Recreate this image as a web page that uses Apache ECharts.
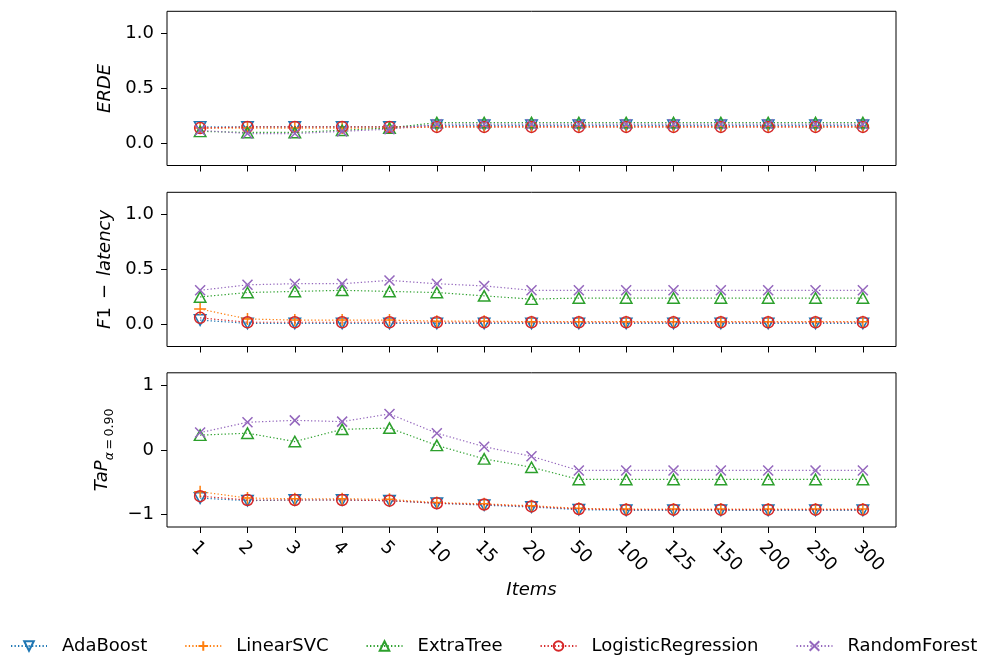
<!DOCTYPE html>
<html>
<head>
<meta charset="utf-8">
<script src="https://cdn.jsdelivr.net/npm/echarts@6/dist/echarts.min.js"></script>
<style>
  html, body { margin: 0; padding: 0; background: #fff; }
  #chart { width: 988px; height: 659px; }
</style>
</head>
<body>
<div id="chart"></div>
<script>
// Number of items seen before a decision
const items = ['1', '2', '3', '4', '5', '10', '15', '20', '50', '100', '125', '150', '200', '250', '300'];

const models = ['AdaBoost', 'LinearSVC', 'ExtraTree', 'LogisticRegression', 'RandomForest'];

// ERDE
const erdeAdaBoost = [0.15, 0.15, 0.15, 0.15, 0.15, 0.165, 0.165, 0.165, 0.165, 0.165, 0.165, 0.165, 0.165, 0.165, 0.165];
const erdeLinearSVC = [0.14, 0.14, 0.14, 0.14, 0.14, 0.15, 0.15, 0.15, 0.15, 0.15, 0.15, 0.15, 0.15, 0.15, 0.15];
const erdeExtraTree = [0.11, 0.10, 0.10, 0.12, 0.14, 0.19, 0.19, 0.19, 0.19, 0.19, 0.19, 0.19, 0.19, 0.19, 0.19];
const erdeLogReg = [0.14, 0.15, 0.15, 0.15, 0.15, 0.15, 0.15, 0.15, 0.15, 0.15, 0.15, 0.15, 0.15, 0.15, 0.15];
const erdeRandomForest = [0.12, 0.09, 0.09, 0.11, 0.13, 0.175, 0.175, 0.175, 0.175, 0.175, 0.175, 0.175, 0.175, 0.175, 0.175];

// F1 - latency
const f1AdaBoost = [0.04, 0.01, 0.01, 0.01, 0.01, 0.01, 0.01, 0.01, 0.01, 0.01, 0.01, 0.01, 0.01, 0.01, 0.01];
const f1LinearSVC = [0.14, 0.05, 0.04, 0.04, 0.04, 0.03, 0.03, 0.025, 0.025, 0.025, 0.025, 0.025, 0.025, 0.025, 0.025];
const f1ExtraTree = [0.25, 0.29, 0.30, 0.31, 0.30, 0.29, 0.26, 0.23, 0.24, 0.24, 0.24, 0.24, 0.24, 0.24, 0.24];
const f1LogReg = [0.06, 0.02, 0.02, 0.02, 0.02, 0.02, 0.02, 0.02, 0.02, 0.02, 0.02, 0.02, 0.02, 0.02, 0.02];
const f1RandomForest = [0.31, 0.36, 0.37, 0.37, 0.40, 0.37, 0.35, 0.31, 0.31, 0.31, 0.31, 0.31, 0.31, 0.31, 0.31];

// TaP (alpha = 0.90)
const tapAdaBoost = [-0.75, -0.79, -0.78, -0.78, -0.79, -0.83, -0.86, -0.89, -0.93, -0.94, -0.94, -0.94, -0.94, -0.94, -0.94];
const tapLinearSVC = [-0.65, -0.75, -0.76, -0.76, -0.77, -0.82, -0.84, -0.87, -0.91, -0.92, -0.92, -0.92, -0.92, -0.92, -0.92];
const tapExtraTree = [0.23, 0.26, 0.13, 0.32, 0.34, 0.07, -0.14, -0.27, -0.46, -0.46, -0.46, -0.46, -0.46, -0.46, -0.46];
const tapLogReg = [-0.72, -0.78, -0.78, -0.78, -0.79, -0.83, -0.85, -0.88, -0.92, -0.93, -0.93, -0.93, -0.93, -0.93, -0.93];
const tapRandomForest = [0.27, 0.43, 0.46, 0.44, 0.56, 0.26, 0.05, -0.10, -0.32, -0.32, -0.32, -0.32, -0.32, -0.32, -0.32];

// Tick labels
const unitTicks = [0, 0.5, 1];
const tapTicks = [-1, 0, 1];

const panels = [
  [erdeAdaBoost, erdeLinearSVC, erdeExtraTree, erdeLogReg, erdeRandomForest],
  [f1AdaBoost, f1LinearSVC, f1ExtraTree, f1LogReg, f1RandomForest],
  [tapAdaBoost, tapLinearSVC, tapExtraTree, tapLogReg, tapRandomForest]
];

const colors = ['#1f77b4', '#ff7f0e', '#2ca02c', '#d62728', '#9467bd'];
const symbols = [
  'path://M0 0 L10 0 L5 10 Z',
  'path://M5 0 L5 10 M0 5 L10 5',
  'path://M5 0 L10 10 L0 10 Z',
  'circle',
  'path://M0 0 L10 10 M10 0 L0 10'
];
const symbolSizes = [[11.5, 10.5], 12, [11.5, 10.5], 11, 10];

const FONT = 'DejaVu Sans';
const idx = items.map((_, i) => i);

const gridTops = [11.3, 192.3, 372.8];
const gridH = 154.2;

const grids = gridTops.map(t => ({
  left: 167, width: 729, top: t, height: gridH,
  show: true, borderColor: '#000', borderWidth: 1, backgroundColor: 'transparent'
}));

const xAxes = gridTops.map((_, g) => ({
  type: 'value', gridIndex: g, min: -0.7, max: 14.7, position: 'bottom',
  axisLine: { show: false, onZero: false },
  splitLine: { show: false },
  axisTick: { show: true, customValues: idx, length: 6, lineStyle: { color: '#000', width: 1 } },
  axisLabel: {
    show: g === 2, customValues: idx,
    formatter: v => items[Math.round(v)],
    rotate: -45, align: 'left', verticalAlign: 'top', margin: 11,
    fontSize: 18, color: '#000', fontFamily: FONT
  },
  name: g === 2 ? 'Items' : '',
  nameLocation: 'middle', nameGap: 54,
  nameTextStyle: { fontSize: 18, fontStyle: 'italic', color: '#000', fontFamily: FONT }
}));

const yNames = [
  '{i|ERDE}',
  '{i|F}{n|1}{m|−}{i|latency}',
  '{i|TaP}{si|α}{sn|\u2009=\u20090.90}'
];
const yRich = {
  i: { fontSize: 18, fontStyle: 'italic', fontFamily: FONT, color: '#000', lineHeight: 28, verticalAlign: 'middle' },
  n: { fontSize: 18, fontFamily: FONT, color: '#000', lineHeight: 28, verticalAlign: 'middle' },
  m: { fontSize: 18, fontFamily: FONT, color: '#000', lineHeight: 28, verticalAlign: 'middle', padding: [0, 8, 0, 8] },
  si: { fontSize: 12.6, fontStyle: 'italic', fontFamily: FONT, color: '#000', lineHeight: 14, verticalAlign: 'bottom' },
  sn: { fontSize: 12.6, fontFamily: FONT, color: '#000', lineHeight: 14, verticalAlign: 'bottom' }
};

const yAxes = gridTops.map((_, g) => {
  const isTap = g === 2;
  const ticks = isTap ? tapTicks : unitTicks;
  return {
    type: 'value', gridIndex: g, position: 'left',
    min: isTap ? -1.2 : -0.2, max: 1.2,
    axisLine: { show: false, onZero: false },
    splitLine: { show: false },
    axisTick: { show: true, customValues: ticks, length: 6, lineStyle: { color: '#000', width: 1 } },
    axisLabel: {
      customValues: ticks, margin: 13,
      formatter: v => isTap ? (v < 0 ? '\u2212' + Math.abs(v) : String(v)) : v.toFixed(1),
      fontSize: 18, color: '#000', fontFamily: FONT
    },
    name: yNames[g], nameLocation: 'middle', nameRotate: 90, nameGap: 44,
    nameTextStyle: { rich: yRich }
  };
});

const series = [];
panels.forEach((panel, g) => {
  panel.forEach((vals, m) => {
    series.push({
      type: 'line', name: models[m],
      xAxisIndex: g, yAxisIndex: g,
      data: vals.map((v, i) => [i, v]),
      symbol: symbols[m], symbolSize: symbolSizes[m],
      showSymbol: true,
      lineStyle: { color: colors[m], width: 1.2, type: [1.3, 2.2] },
      itemStyle: { color: 'rgba(0,0,0,0)', borderColor: colors[m], borderWidth: 1.5 },
      emphasis: { disabled: true },
      animation: false, z: 2 + m
    });
  });
});

const chart = echarts.init(document.getElementById('chart'), null, { renderer: 'canvas' });
chart.setOption({
  backgroundColor: '#fff',
  animation: false,
  grid: grids,
  xAxis: xAxes,
  yAxis: yAxes,
  legend: {
    data: models,
    left: 5, top: 632,
    itemWidth: 36, itemHeight: 12, itemGap: 37,
    textStyle: { fontSize: 18, color: '#000', fontFamily: FONT, padding: [0, 0, 0, 10] },
    selectedMode: false
  },
  series: series
});
</script>
</body>
</html>
